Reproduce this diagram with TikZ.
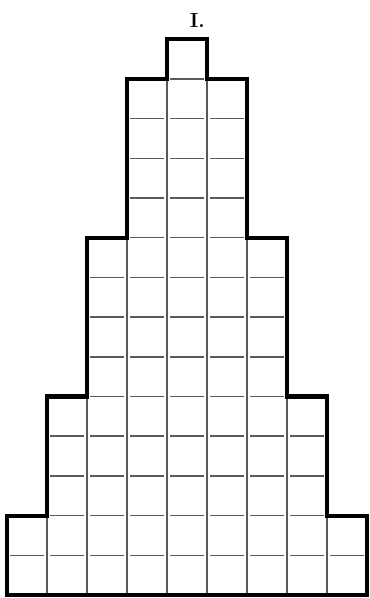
\documentclass[tikz,border=0pt]{standalone}
\begin{document}
\begin{tikzpicture}[line join=round, x=1cm, y=0.9925cm]
	\tikzset{cellline/.style={line width=1.1pt, black!65},
		outline/.style={line width=2.9pt, black, line join=miter}}
	\useasboundingbox (-0.175,-0.0756) rectangle (9.05,14.987);
	% corners of the stepped outline
	\coordinate (B0) at (0,0);
	\coordinate (B1) at (9,0);
	\coordinate (T)  at (4,14);
	\coordinate (T') at (5,14);
	\begin{scope}
		\clip (B0) -- (B1) -- (9,2) -- (8,2) -- (8,5) -- (7,5) -- (7,9) -- (6,9) -- (6,13) -- (5,13) -- (T') -- (T) -- (4,13) -- (3,13) -- (3,9) -- (2,9) -- (2,5) -- (1,5) -- (1,2) -- (0,2) -- cycle;
		\foreach \x in {1,...,8}
			\draw[cellline] (\x,0) -- (\x,14);
		\foreach \y in {1,...,13}
			\foreach \x in {0,...,8}
				\draw[cellline] (\x+0.08,\y) -- (\x+0.92,\y);
	\end{scope}
	\draw[outline] (B0) -- (B1) -- (9,2) -- (8,2) -- (8,5) -- (7,5) -- (7,9) -- (6,9) -- (6,13) -- (5,13) -- (T') -- (T) -- (4,13) -- (3,13) -- (3,9) -- (2,9) -- (2,5) -- (1,5) -- (1,2) -- (0,2) -- cycle;
	\node[font=\fontsize{14.5}{15}\selectfont\bfseries] (title) at (4.76,14.46) {I.};
\end{tikzpicture}
\end{document}
